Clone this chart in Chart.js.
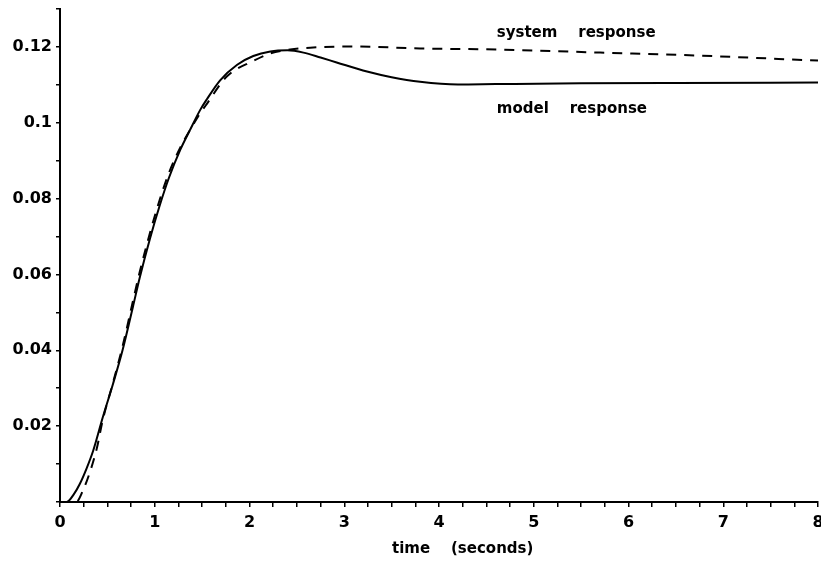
<!DOCTYPE html>
<html>
<head>
<meta charset="utf-8">
<script src="https://cdn.jsdelivr.net/npm/chart.js@4"></script>
<style>
  html, body { margin: 0; padding: 0; background: #fff; }
  #wrap { width: 821px; height: 565px; }
</style>
</head>
<body>
<div id="wrap"><canvas id="respChart" width="821" height="565"></canvas></div>
<script>
// model response (solid)
const modelTime = [0, 0.07, 0.15, 0.21, 0.28, 0.35, 0.45, 0.56, 0.66, 0.77, 0.84, 0.95, 1.05, 1.15, 1.27, 1.37, 1.48, 1.55, 1.69, 1.87, 2.04, 2.22, 2.40, 2.57, 2.75, 2.92, 3.24, 3.5, 3.8, 4.2, 4.6, 5.5, 6.5, 8];
const modelValues = [0, 0, 0.0022, 0.0048, 0.0088, 0.0135, 0.0222, 0.0312, 0.040, 0.0515, 0.059, 0.0695, 0.078, 0.0855, 0.0929, 0.098, 0.1034, 0.1062, 0.1112, 0.1153, 0.1176, 0.1188, 0.1191, 0.1185, 0.1172, 0.1159, 0.1135, 0.1120, 0.1108, 0.1101, 0.1102, 0.1104, 0.1105, 0.1106];

// system response (dashed)
const systemTime = [0, 0.17, 0.25, 0.32, 0.39, 0.45, 0.56, 0.66, 0.77, 0.84, 0.95, 1.05, 1.15, 1.27, 1.37, 1.48, 1.55, 1.76, 2.04, 2.22, 2.43, 2.64, 3.1, 3.8, 4.64, 5.7, 6.75, 8];
const systemValues = [0, 0, 0.0035, 0.0082, 0.0143, 0.0215, 0.0315, 0.041, 0.053, 0.0605, 0.0710, 0.0795, 0.0868, 0.0935, 0.098, 0.1025, 0.105, 0.1122, 0.1163, 0.1183, 0.1193, 0.1198, 0.1201, 0.1196, 0.1193, 0.1185, 0.1177, 0.1164];

const xLabels = ['0', '1', '2', '3', '4', '5', '6', '7', '8'];
const yLabels = { 2: '0.02', 4: '0.04', 6: '0.06', 8: '0.08', 10: '0.1', 12: '0.12' };

// curve labels, placed in data units
const notes = [
  { text: 'system    response', t: 4.61, v: 0.1237 },
  { text: 'model    response', t: 4.61, v: 0.1037 }
];
const xTitle = 'time    (seconds)';

const toPoints = (xs, ys) => xs.map((x, i) => ({ x: x, y: ys[i] }));

const notePlugin = {
  id: 'notes',
  afterDatasetsDraw(chart) {
    const ctx = chart.ctx;
    const xs = chart.scales.x, ys = chart.scales.y;
    ctx.save();
    ctx.fillStyle = '#000';
    ctx.font = 'bold 15px "DejaVu Sans"';
    ctx.textBaseline = 'middle';
    notes.forEach(n => {
      ctx.fillText(n.text, xs.getPixelForValue(n.t), ys.getPixelForValue(n.v));
    });
    // axis title sits a little right of centre in the original
    ctx.textAlign = 'center';
    ctx.fillText(xTitle, xs.getPixelForValue(4.25), chart.chartArea.bottom + 47);
    ctx.restore();
  }
};

new Chart(document.getElementById('respChart').getContext('2d'), {
  type: 'line',
  data: {
    datasets: [
      {
        label: 'model response',
        data: toPoints(modelTime, modelValues),
        borderColor: '#000',
        borderWidth: 2,
        pointRadius: 0,
        cubicInterpolationMode: 'monotone'
      },
      {
        label: 'system response',
        data: toPoints(systemTime, systemValues),
        borderColor: '#000',
        borderWidth: 2,
        borderDash: [10, 8],
        pointRadius: 0,
        cubicInterpolationMode: 'monotone'
      }
    ]
  },
  options: {
    responsive: false,
    animation: false,
    layout: { autoPadding: false, padding: { top: 9, right: 3, left: 0, bottom: 0 } },
    plugins: { legend: { display: false }, tooltip: { enabled: false } },
    scales: {
      x: {
        type: 'linear',
        min: 0,
        max: 8,
        border: { display: true, color: '#000', width: 2 },
        grid: { drawOnChartArea: false, color: '#000', tickLength: 5, lineWidth: 1.5 },
        ticks: {
          stepSize: 0.25,
          autoSkip: false,
          maxRotation: 0,
          color: '#000',
          font: { family: 'DejaVu Sans', size: 16, weight: 'bold' },
          padding: 6,
          callback: v => Number.isInteger(v) ? xLabels[v] : ''
        },
        afterFit: s => { s.height = 63; s.paddingLeft = 0; s.paddingRight = 0; }
      },
      y: {
        min: 0,
        max: 0.13,
        border: { display: true, color: '#000', width: 2 },
        grid: { drawOnChartArea: false, color: '#000', tickLength: 4, lineWidth: 1.5 },
        ticks: {
          stepSize: 0.01,
          autoSkip: false,
          color: '#000',
          font: { family: 'DejaVu Sans', size: 16, weight: 'bold' },
          padding: 4,
          callback: v => yLabels[Math.round(v * 100)] || ''
        },
        afterFit: s => { s.width = 60; s.paddingTop = 0; s.paddingBottom = 0; }
      }
    }
  },
  plugins: [notePlugin]
});
</script>
</body>
</html>
